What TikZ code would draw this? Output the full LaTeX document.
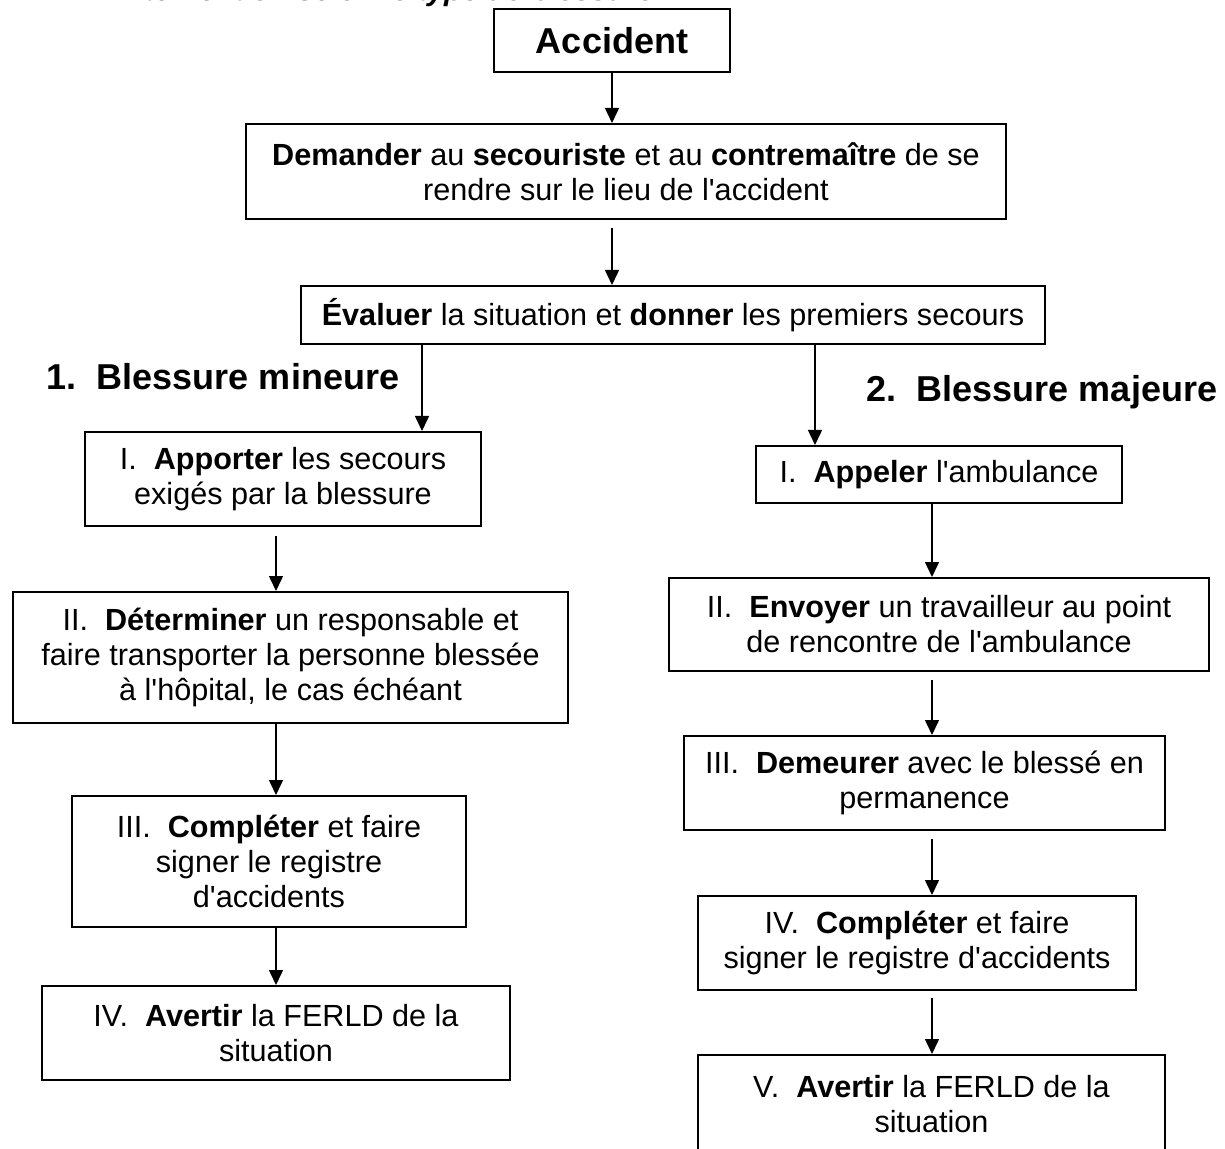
\documentclass[tikz,border=0pt]{standalone}
\usepackage{fontspec}
\setmainfont{Liberation Sans}[Ligatures=TeXOff]
\usetikzlibrary{arrows.meta}

\begin{document}
\begin{tikzpicture}[x=0.5pt, y=-0.5pt,
    boite/.style={draw, line width=1pt, inner sep=0pt, align=center, font=\fontsize{15.3}{17.5}\selectfont},
    fleche/.style={line width=0.75pt, -{Triangle[length=7.5pt, width=7pt]}},
    titre/.style={inner sep=0pt, font=\fontsize{18}{21}\selectfont\bfseries}]

    \useasboundingbox (0,0) rectangle (1225,1149);

    % titre coupe en haut de la page
    \node[inner sep=0pt, anchor=base west, font=\fontsize{15}{18}\selectfont\bfseries\itshape] (entete) at (117,0.3) {Intervention selon le type de blessure};

    \node[boite, minimum width=118pt, minimum height=31.5pt, font=\fontsize{18}{21}\selectfont\bfseries] (acc) at (612,40.5) {Accident};
    \node[boite, minimum width=380pt, minimum height=47.5pt] (dem) at (626,171.5) {\textbf{Demander} au \textbf{secouriste} et au \textbf{contremaître} de se\\rendre sur le lieu de l'accident};
    \node[boite, minimum width=372pt, minimum height=29pt] (eval) at (673,315) {\textbf{Évaluer} la situation et \textbf{donner} les premiers secours};

    \node[titre] (mineure) at (223,377) {1.\ \ Blessure mineure};
    \node[titre] (majeure) at (1042,392) {2.\ \ Blessure majeure};

    % blessure mineure
    \node[boite, minimum width=198pt, minimum height=47pt] (g1) at (283,479) {I.\ \ \textbf{Apporter} les secours\\exigés par la blessure};
    \node[boite, minimum width=277.5pt, minimum height=65.5pt] (g2) at (290.5,657.5) {II.\ \ \textbf{Déterminer} un responsable et\\faire transporter la personne blessée\\à l'hôpital, le cas échéant};
    \node[boite, minimum width=197pt, minimum height=65.5pt] (g3) at (269,861.5) {III.\ \ \textbf{Compléter} et faire\\signer le registre\\d'accidents};
    \node[boite, minimum width=234pt, minimum height=47pt] (g4) at (276,1033) {IV.\ \ \textbf{Avertir} la FERLD de la\\situation};

    % blessure majeure
    \node[boite, minimum width=183pt, minimum height=28.5pt] (d1) at (939,474.5) {I.\ \ \textbf{Appeler} l'ambulance};
    \node[boite, minimum width=270pt, minimum height=46.5pt] (d2) at (939,624.5) {II.\ \ \textbf{Envoyer} un travailleur au point\\de rencontre de l'ambulance};
    \node[boite, minimum width=240.5pt, minimum height=47pt] (d3) at (924.5,783) {III.\ \ \textbf{Demeurer} avec le blessé en\\permanence};
    \node[boite, minimum width=219pt, minimum height=47pt] (d4) at (917,943) {IV.\ \ \textbf{Compléter} et faire\\signer le registre d'accidents};
    \node[boite, minimum width=233.5pt, minimum height=49pt] (d5) at (931.5,1104) {V.\ \ \textbf{Avertir} la FERLD de la\\situation};

    \coordinate (xm) at (422,0);
    \coordinate (xM) at (815,0);
    \coordinate (xg) at (276,0);
    \coordinate (xd) at (932,0);

    \draw[fleche] (acc.south) -- (dem.north -| acc.south);
    \draw[fleche, shorten <=4pt] (dem.south -| acc.south) -- (eval.north -| acc.south);
    \draw[fleche] (eval.south -| xm) -- (g1.north -| xm);
    \draw[fleche] (eval.south -| xM) -- (d1.north -| xM);

    \draw[fleche, shorten <=4.5pt] (g1.south -| xg) -- (g2.north -| xg);
    \draw[fleche] (g2.south -| xg) -- (g3.north -| xg);
    \draw[fleche] (g3.south -| xg) -- (g4.north -| xg);

    \draw[fleche] (d1.south -| xd) -- (d2.north -| xd);
    \draw[fleche, shorten <=4pt] (d2.south -| xd) -- (d3.north -| xd);
    \draw[fleche, shorten <=4pt] (d3.south -| xd) -- (d4.north -| xd);
    \draw[fleche, shorten <=3.5pt] (d4.south -| xd) -- (d5.north -| xd);

\end{tikzpicture}
\end{document}
